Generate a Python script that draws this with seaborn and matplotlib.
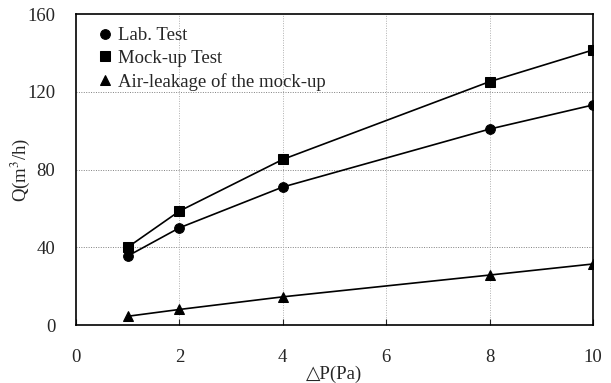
import matplotlib
matplotlib.use('Agg')
import matplotlib.pyplot as plt
import pandas as pd
import seaborn as sns

# data
dp = [1, 2, 4, 8, 10]
lab_test = [35.5, 50, 71, 100.8, 113.2]
mockup_test = [40, 58.6, 85.2, 125.2, 141.5]
air_leakage = [4.5, 8, 14.5, 25.7, 31.4]

series_names = ['Lab. Test', 'Mock-up Test', 'Air-leakage of the mock-up']
series_markers = ['o', 's', '^']

df = pd.DataFrame({'dp': dp * 3,
                   'Q': lab_test + mockup_test + air_leakage,
                   'series': [n for n in series_names for _ in dp]})

sns.set_style('ticks')
plt.rcParams['font.family'] = ['Liberation Serif', 'DejaVu Serif']
plt.rcParams['mathtext.fontset'] = 'stix'

fig = plt.figure(figsize=(6.11, 3.83), dpi=100)
ax = fig.add_axes([0.1244, 0.1514, 0.8461, 0.812])

for name, mk in zip(series_names, series_markers):
    sns.lineplot(data=df[df['series'] == name], x='dp', y='Q', color='black',
                 marker=mk, markersize=7, markeredgecolor='black',
                 linewidth=1.2, label=name, ax=ax)

ax.set_xlim(0, 10)
ax.set_ylim(0, 160)
ax.set_xticks([0, 2, 4, 6, 8, 10])
ax.set_yticks([0, 40, 80, 120, 160])

for y in [40, 80, 120]:
    ax.axhline(y, color='#808080', linestyle=(0, (1, 1.5)), linewidth=0.7, zorder=0)
for x in [2, 4, 6, 8]:
    ax.axvline(x, color='#b0b0b0', linestyle=(0, (1, 1.5)), linewidth=0.7, zorder=0)

for s in ax.spines.values():
    s.set_visible(True)
    s.set_color('black')
    s.set_linewidth(1.2)

ax.tick_params(axis='x', direction='in', length=4, pad=17, labelsize=13.5)
ax.tick_params(axis='y', length=0, pad=15, labelsize=13.5)

ax.set_xlabel('△P(Pa)', fontsize=13.5, labelpad=0)
ax.set_ylabel('Q(m$^3$/h)', fontsize=13.5)
ax.yaxis.set_label_coords(-0.085, 0.5)

leg = ax.legend(loc='upper left', frameon=False, fontsize=13.5, handlelength=0.6,
                handletextpad=0.4, labelspacing=0.3, borderaxespad=0.3,
                bbox_to_anchor=(0.02, 1.0))
for h in leg.legend_handles:
    h.set_linestyle('none')

fig.savefig('out.png', dpi=100)
